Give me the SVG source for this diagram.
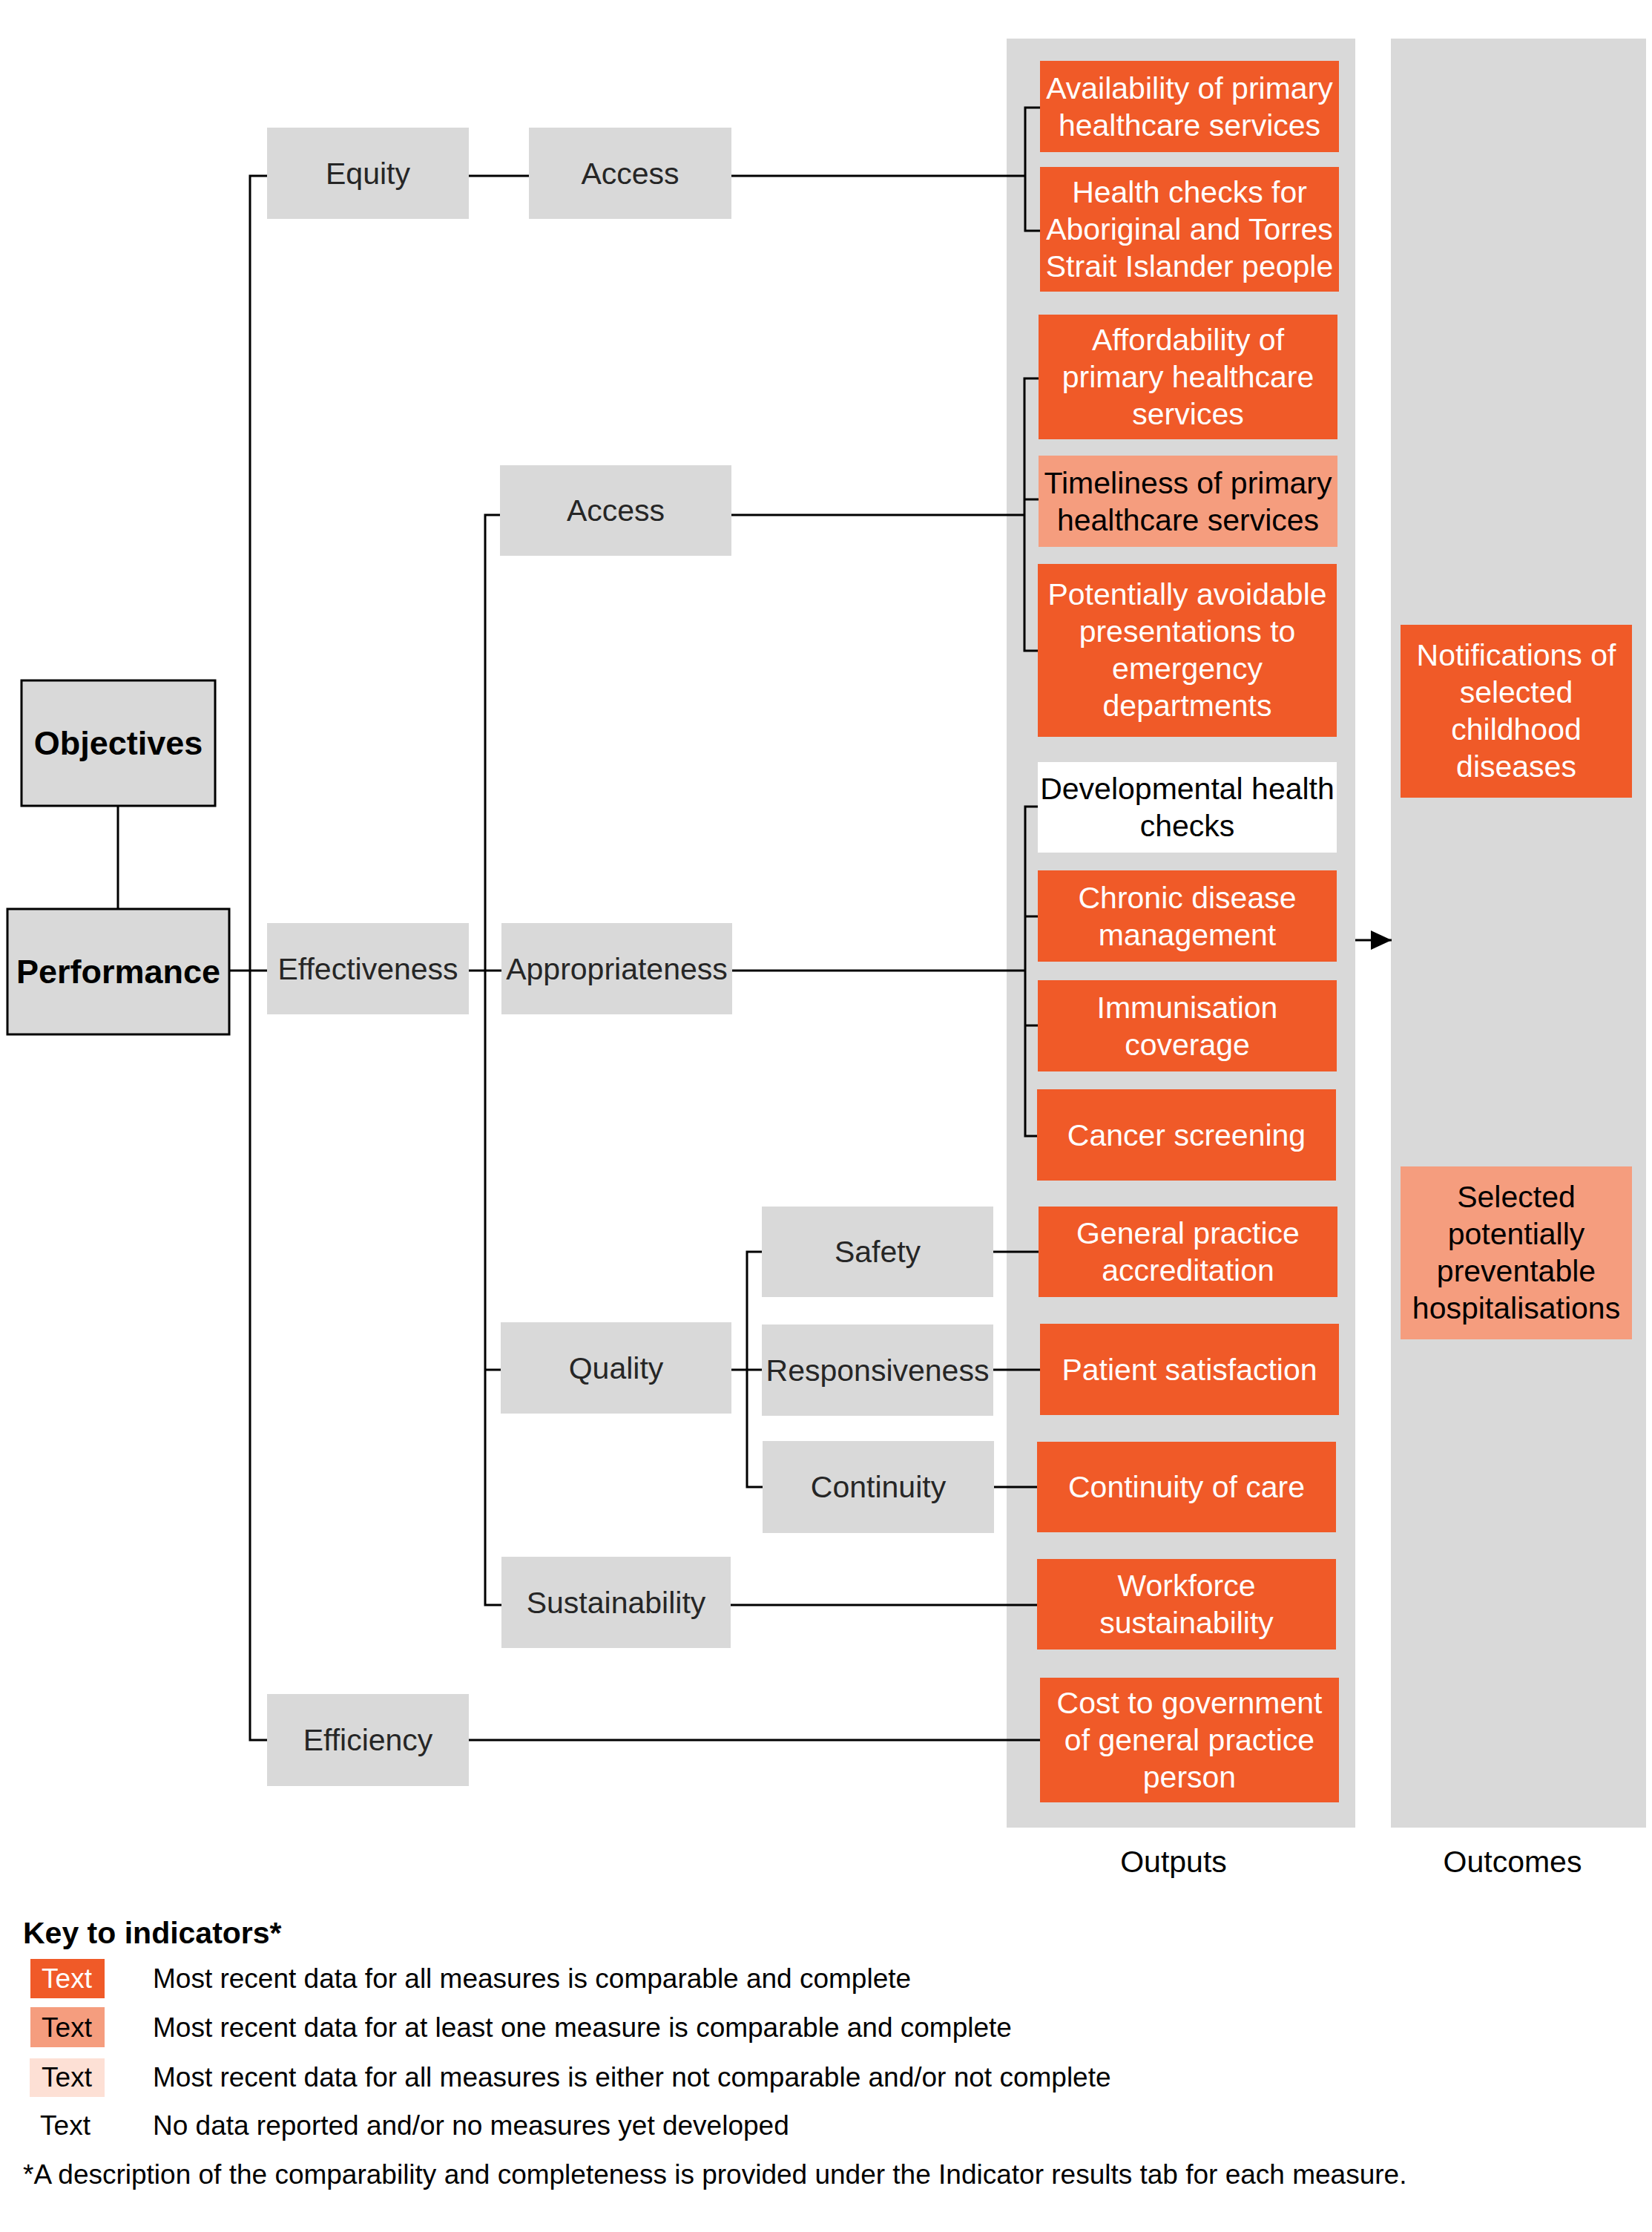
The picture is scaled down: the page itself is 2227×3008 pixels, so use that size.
<svg xmlns="http://www.w3.org/2000/svg" width="2227" height="3008" viewBox="0 0 2227 3008">
<style>
text{font-family:"Liberation Sans",Arial,sans-serif;}
.g{fill:#D9D9D9;}
.gt{font-size:41px;fill:#262626;text-anchor:middle;}
.bold{font-size:45px;font-weight:bold;fill:#000;text-anchor:middle;}
.frame{fill:#D9D9D9;stroke:#000;stroke-width:3;}
.o{fill:#F05A28;}
.s{fill:#F59D7E;}
.w{fill:#FFFFFF;}
.l{fill:#FDE0D5;}
.ot{font-size:41px;fill:#FFFFFF;text-anchor:middle;}
.bt{font-size:41px;fill:#000;text-anchor:middle;}
.lab{font-size:41px;fill:#000;text-anchor:middle;}
.key{font-size:37px;fill:#000;}
.keyc{font-size:37px;text-anchor:middle;}
#connectors path{fill:none;stroke:#000;stroke-width:3;}
</style>
<defs>
<marker id="arr" viewBox="0 0 28 26" refX="28" refY="13" markerWidth="28" markerHeight="26" markerUnits="userSpaceOnUse" orient="auto">
<path d="M0,0 L28,13 L0,26 z" fill="#000"/>
</marker>
</defs>

<!-- panels -->
<rect id="outputs-panel" x="1357" y="52" width="470" height="2411" class="g"/>
<rect id="outcomes-panel" x="1875" y="52" width="344" height="2411" class="g"/>

<g id="connectors">
<path d="M159,1086 V1225"/>
<path d="M309,1308 H360"/>
<path d="M360,237 H337 V2345 H360"/>
<path d="M632,237 H713"/>
<path d="M986,237 H1382"/>
<path d="M1402,145 H1382 V311 H1402"/>
<path d="M632,1308 H676"/>
<path d="M674,694 H654 V2163 H676"/>
<path d="M654,1846 H675"/>
<path d="M986,694 H1381"/>
<path d="M1400,510 H1381 V877 H1399"/>
<path d="M1381,673 H1400"/>
<path d="M987,1308 H1382"/>
<path d="M1399,1087 H1382 V1531 H1398"/>
<path d="M1382,1235 H1399"/>
<path d="M1382,1382 H1399"/>
<path d="M986,1846 H1027"/>
<path d="M1027,1687 H1007 V2004 H1028"/>
<path d="M1339,1687 H1400"/>
<path d="M1339,1846 H1402"/>
<path d="M1340,2004 H1398"/>
<path d="M985,2163 H1398"/>
<path d="M632,2345 H1402"/>
<path d="M1827,1267 H1876" marker-end="url(#arr)"/>
</g>

<g id="objectives"><rect x="29" y="917" width="261" height="169" class="frame"/><text x="159.5" y="1017" class="bold">Objectives</text></g>
<g id="performance"><rect x="10" y="1225" width="299" height="169" class="frame"/><text x="159.5" y="1325" class="bold">Performance</text></g>

<g id="equity"><rect x="360" y="172" width="272" height="123" class="g"/><text x="496" y="248" class="gt">Equity</text></g>
<g id="access-equity"><rect x="713" y="172" width="273" height="123" class="g"/><text x="849.5" y="248" class="gt">Access</text></g>
<g id="effectiveness"><rect x="360" y="1244" width="272" height="123" class="g"/><text x="496" y="1320" class="gt">Effectiveness</text></g>
<g id="access-eff"><rect x="674" y="627" width="312" height="122" class="g"/><text x="830" y="702" class="gt">Access</text></g>
<g id="appropriateness"><rect x="676" y="1244" width="311" height="123" class="g"/><text x="831.5" y="1320" class="gt">Appropriateness</text></g>
<g id="quality"><rect x="675" y="1782" width="311" height="123" class="g"/><text x="830.5" y="1858" class="gt">Quality</text></g>
<g id="sustainability"><rect x="676" y="2098" width="309" height="123" class="g"/><text x="830.5" y="2174" class="gt">Sustainability</text></g>
<g id="efficiency"><rect x="360" y="2283" width="272" height="124" class="g"/><text x="496" y="2359" class="gt">Efficiency</text></g>
<g id="safety"><rect x="1027" y="1626" width="312" height="122" class="g"/><text x="1183" y="1701" class="gt">Safety</text></g>
<g id="responsiveness"><rect x="1027" y="1785" width="312" height="123" class="g"/><text x="1183" y="1861" class="gt">Responsiveness</text></g>
<g id="continuity"><rect x="1028" y="1942" width="312" height="124" class="g"/><text x="1184" y="2018" class="gt">Continuity</text></g>

<g id="availability"><rect x="1402" y="82" width="403" height="123" class="o"/><text class="ot"><tspan x="1603.5" y="133">Availability of primary</tspan><tspan x="1603.5" y="183">healthcare services</tspan></text></g>
<g id="health-checks"><rect x="1402" y="225" width="403" height="168" class="o"/><text class="ot"><tspan x="1603.5" y="273">Health checks for</tspan><tspan x="1603.5" y="323">Aboriginal and Torres</tspan><tspan x="1603.5" y="373">Strait Islander people</tspan></text></g>
<g id="affordability"><rect x="1400" y="424" width="403" height="168" class="o"/><text class="ot"><tspan x="1601.5" y="472">Affordability of</tspan><tspan x="1601.5" y="522">primary healthcare</tspan><tspan x="1601.5" y="572">services</tspan></text></g>
<g id="timeliness"><rect x="1400" y="614" width="403" height="123" class="s"/><text class="bt"><tspan x="1601.5" y="665">Timeliness of primary</tspan><tspan x="1601.5" y="715">healthcare services</tspan></text></g>
<g id="avoidable"><rect x="1399" y="760" width="403" height="233" class="o"/><text class="ot"><tspan x="1600.5" y="815">Potentially avoidable</tspan><tspan x="1600.5" y="865">presentations to</tspan><tspan x="1600.5" y="915">emergency</tspan><tspan x="1600.5" y="965">departments</tspan></text></g>
<g id="developmental"><rect x="1399" y="1027" width="403" height="122" class="w"/><text class="bt"><tspan x="1600.5" y="1077">Developmental health</tspan><tspan x="1600.5" y="1127">checks</tspan></text></g>
<g id="chronic"><rect x="1399" y="1173" width="403" height="123" class="o"/><text class="ot"><tspan x="1600.5" y="1224">Chronic disease</tspan><tspan x="1600.5" y="1274">management</tspan></text></g>
<g id="immunisation"><rect x="1399" y="1321" width="403" height="123" class="o"/><text class="ot"><tspan x="1600.5" y="1372">Immunisation</tspan><tspan x="1600.5" y="1422">coverage</tspan></text></g>
<g id="cancer"><rect x="1398" y="1468" width="403" height="123" class="o"/><text x="1599.5" y="1544" class="ot">Cancer screening</text></g>
<g id="gp-accreditation"><rect x="1400" y="1626" width="403" height="122" class="o"/><text class="ot"><tspan x="1601.5" y="1676">General practice</tspan><tspan x="1601.5" y="1726">accreditation</tspan></text></g>
<g id="patient-satisfaction"><rect x="1402" y="1784" width="403" height="123" class="o"/><text x="1603.5" y="1860" class="ot">Patient satisfaction</text></g>
<g id="continuity-care"><rect x="1398" y="1943" width="403" height="122" class="o"/><text x="1599.5" y="2018" class="ot">Continuity of care</text></g>
<g id="workforce"><rect x="1398" y="2101" width="403" height="122" class="o"/><text class="ot"><tspan x="1599.5" y="2151">Workforce</tspan><tspan x="1599.5" y="2201">sustainability</tspan></text></g>
<g id="cost"><rect x="1402" y="2261" width="403" height="168" class="o"/><text class="ot"><tspan x="1603.5" y="2309">Cost to government</tspan><tspan x="1603.5" y="2359">of general practice</tspan><tspan x="1603.5" y="2409">person</tspan></text></g>
<g id="notifications"><rect x="1888" y="842" width="312" height="233" class="o"/><text class="ot"><tspan x="2044" y="897">Notifications of</tspan><tspan x="2044" y="947">selected</tspan><tspan x="2044" y="997">childhood</tspan><tspan x="2044" y="1047">diseases</tspan></text></g>
<g id="selected"><rect x="1888" y="1572" width="312" height="233" class="s"/><text class="bt"><tspan x="2044" y="1627">Selected</tspan><tspan x="2044" y="1677">potentially</tspan><tspan x="2044" y="1727">preventable</tspan><tspan x="2044" y="1777">hospitalisations</tspan></text></g>

<text x="1582" y="2523" class="lab">Outputs</text>
<text x="2039" y="2523" class="lab">Outcomes</text>

<g id="legend">
<text x="31" y="2619" style="font-size:41px;font-weight:bold;fill:#000">Key to indicators*</text>
<rect x="41" y="2640" width="100" height="53" class="o"/><text x="90" y="2679" class="keyc" fill="#FFFFFF">Text</text>
<text x="206" y="2679" class="key">Most recent data for all measures is comparable and complete</text>
<rect x="41" y="2705" width="100" height="54" class="s"/><text x="90" y="2745" class="keyc" fill="#000">Text</text>
<text x="206" y="2745" class="key">Most recent data for at least one measure is comparable and complete</text>
<rect x="40" y="2774" width="101" height="52" class="l"/><text x="90" y="2812" class="keyc" fill="#000">Text</text>
<text x="206" y="2812" class="key">Most recent data for all measures is either not comparable and/or not complete</text>
<text x="88" y="2877" class="keyc" fill="#000">Text</text>
<text x="206" y="2877" class="key">No data reported and/or no measures yet developed</text>
<text x="31" y="2943" class="key">*A description of the comparability and completeness is provided under the Indicator results tab for each measure.</text>
</g>
</svg>
